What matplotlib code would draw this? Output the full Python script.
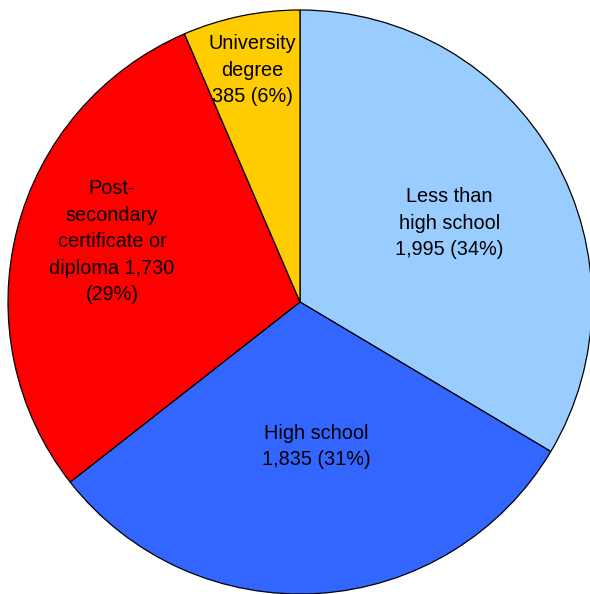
import numpy as np
import matplotlib
matplotlib.use('Agg')
import matplotlib.pyplot as plt

plt.rcParams['font.family'] = ['Liberation Sans', 'DejaVu Sans']

categories = ["Less than\nhigh school", "High school", "Post-\nsecondary\ncertificate or\ndiploma", "University\ndegree"]
counts = [1995, 1835, 1730, 385]
pct_text = ["34%", "31%", "29%", "6%"]
colors = ["#99CCFF", "#3366FF", "#FF0000", "#FFCC00"]
# label placement: fraction of radius, and nudge from mid-angle (deg)
label_r = [0.578, 0.498, 0.676, 0.81]
label_dang = [-1.7, 2.7, -3.4, 0.0]

fig = plt.figure(figsize=(5.9, 5.94), dpi=100)
ax = fig.add_axes([0, 0, 1, 1])

wedges, _ = ax.pie(counts, colors=colors, startangle=90, counterclock=False,
                   radius=1.0, wedgeprops=dict(edgecolor='black', linewidth=0.9))

for w, cat, n, p, r, da in zip(wedges, categories, counts, pct_text, label_r, label_dang):
    ang = np.deg2rad((w.theta1 + w.theta2) / 2.0 + da)
    if cat.endswith("diploma"):
        txt = "{} {:,}\n({})".format(cat, n, p)
    else:
        txt = "{}\n{:,} ({})".format(cat, n, p)
    ax.text(r * np.cos(ang), r * np.sin(ang), txt, ha='center', va='center',
            fontsize=14.3, linespacing=1.5, color='black')

# pie centre at (300, 302) px, radius 292 px
s = 292.0
ax.set_xlim(-300 / s, 290 / s)
ax.set_ylim(-(594 - 302) / s, 302 / s)
ax.set_aspect('auto')
ax.axis('off')

plt.savefig('out.png', dpi=100)
